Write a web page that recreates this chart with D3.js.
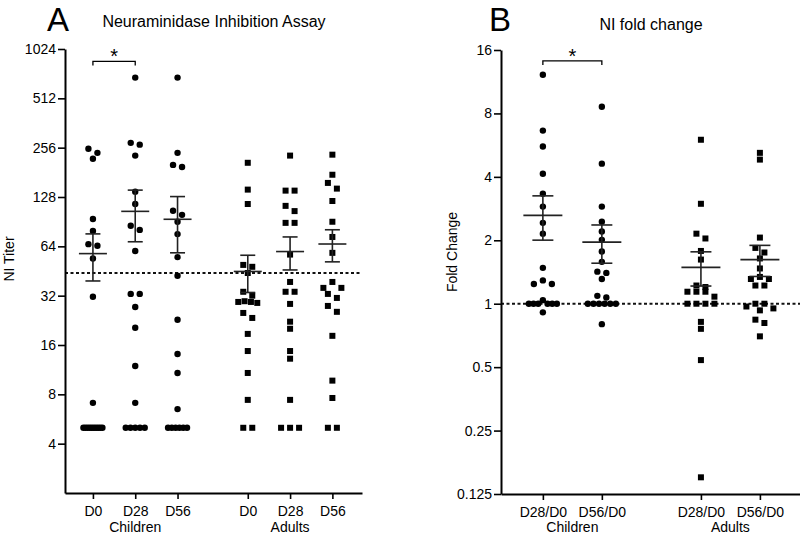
<!DOCTYPE html>
<html>
<head>
<meta charset="utf-8">
<script src="https://cdn.jsdelivr.net/npm/d3@7"></script>
<style>
  body { margin: 0; background: #fff; }
  svg { font-family: "Liberation Sans", Arial, sans-serif; }
</style>
</head>
<body>
<div id="chart"></div>
<script>
// categories and ticks
const groupNames = ["Children", "Adults"];
const titerDays = ["D0", "D28", "D56"];
const foldDays = ["D28/D0", "D56/D0"];
const titerTicks = [4, 8, 16, 32, 64, 128, 256, 512, 1024];
const foldTicks = [0.125, 0.25, 0.5, 1, 2, 4, 8, 16];

// Panel A: NI titers per subject
const titerChildrenD0 = [252, 238, 219, 94, 79.5, 66, 64.5, 54, 31.5, 7.1, 5, 5, 5, 5, 5, 5, 5, 5, 5, 5];
const titerChildrenD28 = [685, 274, 267, 229, 138, 116, 85.5, 80.6, 60, 32.8, 32.8, 27.3, 20.4, 11.9, 7.1, 5, 5, 5, 5, 5];
const titerChildrenD56 = [685, 238, 201, 195, 105.5, 99.6, 90.4, 76, 55, 42.3, 22.8, 14.1, 10.8, 6.5, 5, 5, 5, 5, 5, 5];
const titerAdultsD0 = [207, 142, 116, 49.3, 48, 44, 33.8, 32, 29.6, 29.3, 29.3, 28.9, 25.1, 23.4, 18.7, 14.7, 10.8, 7.4, 5, 5];
const titerAdultsD28 = [229, 140, 140, 113, 105, 89, 89, 57, 38.8, 33.8, 33.8, 28.5, 22.2, 20.1, 14.7, 13.2, 7.4, 5, 5, 5];
const titerAdultsD56 = [232, 175, 156, 144, 121, 90.4, 73, 58.4, 38.8, 35.7, 35.7, 32.8, 31, 27.7, 25.5, 18.2, 9.7, 7.6, 5, 5];
const titerCutoff = 44;
const titerBracketAt = 860;

// Panel B: fold change per subject
const foldChildrenD28 = [12.2, 6.63, 5.57, 4.14, 3.33, 2.89, 2.42, 2.15, 1.48, 1.29, 1.24, 1.24, 1.04, 1, 1, 1, 1, 1, 1, 0.91];
const foldChildrenD56 = [8.6, 4.62, 2.89, 2.45, 2.2, 2.01, 1.77, 1.58, 1.42, 1.4, 1.31, 1.09, 1.07, 1, 1, 1, 1, 1, 1, 0.8];
const foldAdultsD28 = [6.0, 2.98, 2.15, 2.04, 1.78, 1.62, 1.22, 1.2, 1.14, 1.14, 1.14, 1.08, 1, 1, 1, 1, 0.82, 0.76, 0.54, 0.15];
const foldAdultsD56 = [5.2, 4.83, 2.06, 1.84, 1.75, 1.64, 1.47, 1.34, 1.31, 1.31, 1.22, 1.22, 1, 1, 0.97, 0.95, 0.93, 0.84, 0.81, 0.7];
const foldBaseline = 1;
const foldBracketAt = 14.2;

const svg = d3.select("#chart").append("svg")
  .attr("width", 800)
  .attr("height", 535);

// Prism-like scatter: points at about the same height are spread side by side
function swarm(values, y, maxSpan) {
  const pts = values.map(v => ({ v, py: y(v) })).sort((a, b) => a.py - b.py);
  const rows = [];
  pts.forEach(p => {
    const row = rows[rows.length - 1];
    if (row && p.py - row[0].py < 6) row.push(p);
    else rows.push([p]);
  });
  rows.forEach(row => {
    const n = row.length;
    const step = n > 1 ? Math.min(9, maxSpan / (n - 1)) : 0;
    const slots = d3.range(n).map(i => (i - (n - 1) / 2) * step)
      .sort((a, b) => Math.abs(a) - Math.abs(b) || a - b);
    row.forEach((p, i) => p.dx = slots[i]);
  });
  return pts;
}

function drawPanel(cfg) {
  const g = svg.append("g");

  const y = d3.scaleLog().base(2).domain(cfg.yDomain).range([cfg.bottom, cfg.top]);
  const x = d3.scaleLinear().domain(cfg.xDomain).range([cfg.left, cfg.right]);

  const series = [];
  cfg.groups.forEach((grp, gi) => {
    grp.sets.forEach((vals, di) => {
      series.push({ group: grp.name, label: cfg.days[di], pos: gi * cfg.groupStep + di, values: vals, shape: grp.shape });
    });
  });

  // dotted reference line
  g.append("line")
    .attr("x1", cfg.left).attr("x2", cfg.right)
    .attr("y1", y(cfg.refLine)).attr("y2", y(cfg.refLine))
    .attr("stroke", "#111")
    .attr("stroke-width", 2)
    .attr("stroke-dasharray", "3,2.5");

  series.forEach(s => {
    const cx = x(s.pos);
    const pts = swarm(s.values, y, cfg.maxSpan);
    if (s.shape === "circle") {
      g.selectAll(null).data(pts).join("circle")
        .attr("cx", d => cx + d.dx)
        .attr("cy", d => d.py)
        .attr("r", 3.2)
        .attr("fill", "#000");
    } else {
      g.selectAll(null).data(pts).join("rect")
        .attr("x", d => cx + d.dx - 3)
        .attr("y", d => d.py - 3)
        .attr("width", 6)
        .attr("height", 6)
        .attr("fill", "#000");
    }

    // mean and SEM
    const m = d3.mean(s.values);
    const se = d3.deviation(s.values) / Math.sqrt(s.values.length);
    const eb = g.append("g").attr("stroke", "#222").attr("stroke-width", 1.6);
    eb.append("line").attr("x1", cx - cfg.meanHalf).attr("x2", cx + cfg.meanHalf).attr("y1", y(m)).attr("y2", y(m));
    eb.append("line").attr("x1", cx).attr("x2", cx).attr("y1", y(m + se)).attr("y2", y(m - se));
    [m + se, m - se].forEach(v => {
      eb.append("line").attr("x1", cx - cfg.capHalf).attr("x2", cx + cfg.capHalf).attr("y1", y(v)).attr("y2", y(v));
    });
  });

  // axes
  const xAxis = g.append("g")
    .attr("transform", `translate(0,${cfg.bottom})`)
    .call(d3.axisBottom(x)
      .tickValues(series.map(s => s.pos))
      .tickFormat((d, i) => series[i].label)
      .tickSize(6).tickPadding(7).tickSizeOuter(0));

  const yAxis = g.append("g")
    .attr("transform", `translate(${cfg.left},0)`)
    .call(d3.axisLeft(y)
      .tickValues(cfg.ticks)
      .tickFormat(d => String(d))
      .tickSize(7).tickPadding(2).tickSizeOuter(0));

  [xAxis, yAxis].forEach(a => {
    a.select(".domain").attr("stroke", "#000").attr("stroke-width", 2);
    a.selectAll(".tick line").attr("stroke", "#000").attr("stroke-width", 1.6);
    a.selectAll(".tick text").attr("fill", "#000").style("font-size", "14px");
    a.attr("font-family", null);
  });

  // group labels
  cfg.groups.forEach(grp => {
    const ps = series.filter(s => s.group === grp.name).map(s => s.pos);
    g.append("text")
      .attr("x", x(d3.mean(ps)))
      .attr("y", 532)
      .attr("text-anchor", "middle")
      .style("font-size", "14px")
      .text(grp.name);
  });

  // y label
  g.append("text")
    .attr("transform", `translate(${cfg.yLabelX},${cfg.yLabelY}) rotate(-90)`)
    .attr("text-anchor", "middle")
    .style("font-size", "14px")
    .text(cfg.yLabel);

  // panel letter and title
  g.append("text")
    .attr("x", cfg.letterX).attr("y", 31)
    .style("font-size", "33px")
    .text(cfg.letter);
  g.append("text")
    .attr("x", cfg.titleX).attr("y", cfg.titleY)
    .attr("text-anchor", "middle")
    .style("font-size", "16px")
    .text(cfg.title);

  // significance bracket between first two children columns
  const bx1 = x(series[0].pos), bx2 = x(series[1].pos), by = y(cfg.bracketAt);
  g.append("path")
    .attr("d", `M${bx1},${by + 4}V${by}H${bx2}V${by + 4}`)
    .attr("fill", "none")
    .attr("stroke", "#000")
    .attr("stroke-width", 1.3);
  g.append("text")
    .attr("x", (bx1 + bx2) / 2).attr("y", by + 2)
    .attr("text-anchor", "middle")
    .style("font-size", "20px")
    .text("*");
}

drawPanel({
  letter: "A", letterX: 47, title: "Neuraminidase Inhibition Assay", titleX: 214, titleY: 27,
  yLabel: "NI Titer", yLabelX: 14, yLabelY: 259,
  left: 65, right: 362, top: 49, bottom: 493,
  yDomain: [2, 1024], xDomain: [-0.66, 6.36], groupStep: 3.66,
  ticks: titerTicks, days: titerDays, refLine: titerCutoff, bracketAt: titerBracketAt,
  maxSpan: 19, meanHalf: 14, capHalf: 7.5,
  groups: [
    { name: groupNames[0], shape: "circle", sets: [titerChildrenD0, titerChildrenD28, titerChildrenD56] },
    { name: groupNames[1], shape: "square", sets: [titerAdultsD0, titerAdultsD28, titerAdultsD56] }
  ]
});

drawPanel({
  letter: "B", letterX: 489, title: "NI fold change", titleX: 651, titleY: 30,
  yLabel: "Fold Change", yLabelX: 457, yLabelY: 252,
  left: 501, right: 800, top: 50, bottom: 494,
  yDomain: [0.125, 16], xDomain: [-0.71, 4.36], groupStep: 2.68,
  ticks: foldTicks, days: foldDays, refLine: foldBaseline, bracketAt: foldBracketAt,
  maxSpan: 28, meanHalf: 19.5, capHalf: 10.5,
  groups: [
    { name: groupNames[0], shape: "circle", sets: [foldChildrenD28, foldChildrenD56] },
    { name: groupNames[1], shape: "square", sets: [foldAdultsD28, foldAdultsD56] }
  ]
});
</script>
</body>
</html>
